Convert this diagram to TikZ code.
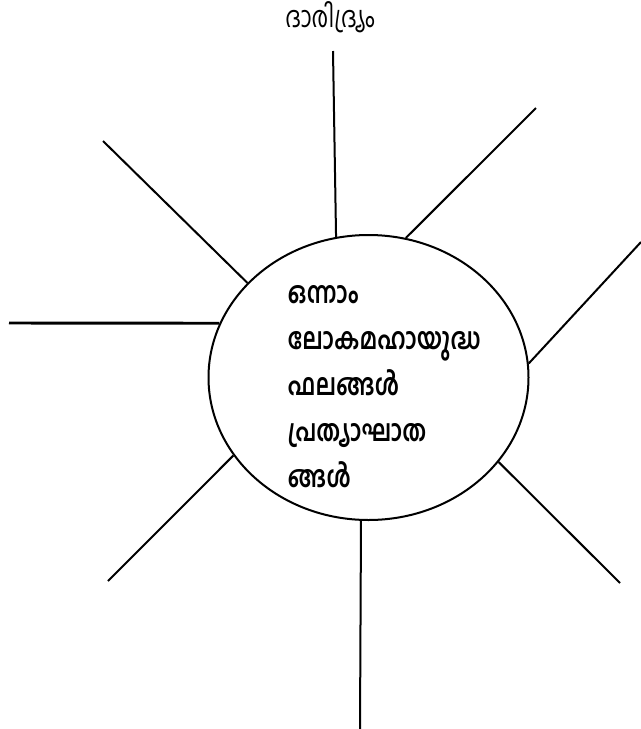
\documentclass[tikz,border=0pt]{standalone}
\usepackage{fontspec}
\newfontfamily\mlfont[Script=Malayalam, FakeStretch=0.76]{Hind Kochi}
\usetikzlibrary{shapes.geometric}
\tikzset{
  ray/.style={line width=1.5pt},
  hub/.style={draw, ellipse, line width=1.5pt, inner sep=0pt,
    minimum width=240pt, minimum height=213.75pt}
}
\begin{document}
\begin{tikzpicture}[x=0.75pt, y=-0.75pt]
        \useasboundingbox (0, 0) rectangle (640, 729);
        \node[hub] (war) at (368.5, 377.5) {};
        \node[anchor=north west, align=left, font=\mlfont\bfseries\fontsize{22.5}{34.4}\selectfont] (effects) at (283, 281)
            {ഒന്നാം\\ലോകമഹായുദ്ധ\\ഫലങ്ങൾ\\പ്രത്യാഘാത\\ങ്ങൾ};
        \node[font=\mlfont\fontsize{22}{24}\selectfont] (poverty) at (330, 17) {ദാരിദ്ര്യം};
        % free ends of the rays
        \coordinate (topend) at (333, 51);
        \coordinate (nnend) at (536, 108);
        \coordinate (eend) at (641, 242);
        \coordinate (seend) at (620, 583);
        \coordinate (botend) at (360, 729);
        \coordinate (swend) at (108, 581);
        \coordinate (wend) at (9, 323);
        \coordinate (nwend) at (103, 141);
        \draw[ray] (war.103.6) -- (topend);
        \draw[ray] (war.75.8) -- (nnend);
        \draw[ray] (war.5.9) -- (eend);
        \draw[ray] (war.-33.2) -- (seend);
        \draw[ray] (war.-93.4) -- (botend);
        \draw[ray] (war.210.7) -- (swend);
        \draw[ray, line width=2.2pt] (war.160.2) -- (wend);
        \draw[ray] (war.142.9) -- (nwend);
\end{tikzpicture}
\end{document}
